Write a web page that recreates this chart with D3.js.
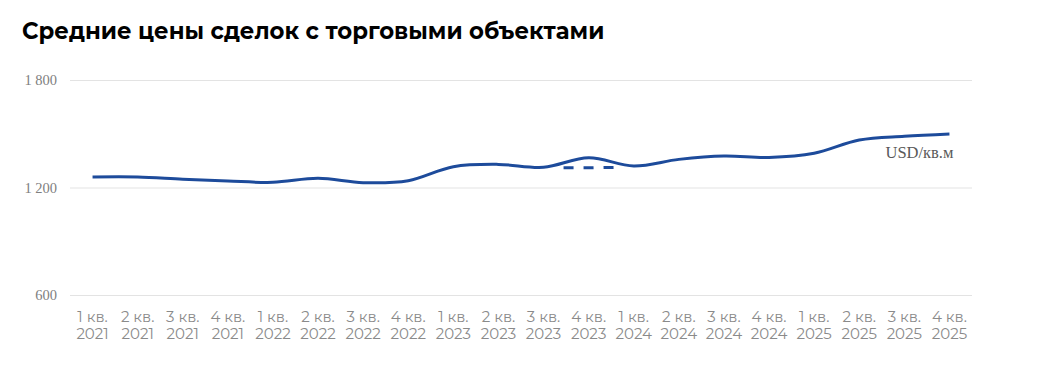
<!DOCTYPE html>
<html>
<head>
<meta charset="utf-8">
<script src="https://cdn.jsdelivr.net/npm/d3@7"></script>
<style>
  html, body { margin: 0; padding: 0; background: #fff; }
  svg { display: block; }
</style>
</head>
<body>
<div id="chart"></div>
<script>
// Quarterly average deal prices, USD per sq.m
const quarters = ["1 кв.", "2 кв.", "3 кв.", "4 кв."];
const years = ["2021", "2022", "2023", "2024", "2025"];
const categories = years.flatMap(y => quarters.map(q => q + "|" + y));
const prices = [1259, 1259, 1246, 1236, 1229, 1251, 1227, 1238, 1316, 1329,
                1313, 1366, 1320, 1357, 1376, 1368, 1391, 1465, 1486, 1499];
// dashed bridge across 4 кв. 2023
const bridge = [null, null, null, null, null, null, null, null, null, null,
                1310, 1310, 1314, null, null, null, null, null, null, null];
const yTicks = [600, 1200, 1800];

const W = 1040, H = 377;
const margin = { top: 80, right: 68, bottom: 82, left: 70 };
const w = W - margin.left - margin.right;
const h = H - margin.top - margin.bottom;

const svg = d3.select("#chart").append("svg")
  .attr("width", W).attr("height", H);

svg.append("text")
  .attr("x", 22).attr("y", 39)
  .attr("font-family", "Montserrat, 'Noto Sans', sans-serif")
  .attr("font-weight", 700)
  .attr("font-size", 22.8)
  .attr("fill", "#000")
  .text("Средние цены сделок с торговыми объектами");

const g = svg.append("g").attr("transform", `translate(${margin.left},${margin.top})`);

const x = d3.scaleBand().domain(categories).range([0, w]);
const y = d3.scaleLinear().domain([600, 1800]).range([h, 0]);
const cx = d => x(d) + x.bandwidth() / 2;

// grid + y labels
g.append("g")
  .call(d3.axisLeft(y).tickValues(yTicks).tickSize(-w).tickPadding(13)
    .tickFormat(d => d3.format(",")(d).replace(",", " ")))
  .call(a => a.select(".domain").remove())
  .call(a => a.selectAll("line").attr("stroke", "#e3e3e3").attr("stroke-width", 1))
  .call(a => a.selectAll("text")
    .attr("font-family", "'Liberation Serif', 'Times New Roman', serif")
    .attr("font-size", 14.5).attr("fill", "#808080"));

// x labels, two lines
const xa = g.append("g").attr("transform", `translate(0,${h})`)
  .call(d3.axisBottom(x).tickSize(0).tickFormat(""))
  .call(a => a.select(".domain").remove());
xa.selectAll(".tick").append("text")
  .attr("font-family", "Montserrat, 'Noto Sans', sans-serif")
  .attr("font-size", 15).attr("fill", "#8a8a8a")
  .attr("text-anchor", "middle")
  .selectAll("tspan")
  .data(d => d.split("|"))
  .join("tspan")
  .attr("x", 0)
  .attr("y", (_, i) => 27 + i * 17)
  .text(d => d);

const line = d3.line()
  .defined(d => d[1] != null)
  .x(d => cx(d[0]))
  .y(d => y(d[1]));

g.append("path")
  .datum(categories.map((c, i) => [c, bridge[i]]))
  .attr("fill", "none")
  .attr("stroke", "#1d4b9b")
  .attr("stroke-width", 3)
  .attr("stroke-dasharray", "0,20,10,10,10,10,10,100")
  .attr("d", line.curve(d3.curveLinear));

g.append("path")
  .datum(categories.map((c, i) => [c, prices[i]]))
  .attr("fill", "none")
  .attr("stroke", "#1d4b9b")
  .attr("stroke-width", 3)
  .attr("d", line.curve(d3.curveCatmullRom.alpha(0.5)));

g.append("text")
  .attr("x", cx(categories[categories.length - 1]) + 4)
  .attr("y", y(prices[prices.length - 1]) + 24)
  .attr("text-anchor", "end")
  .attr("font-family", "'Liberation Serif', 'Times New Roman', serif")
  .attr("font-size", 16.5)
  .attr("fill", "#595959")
  .text("USD/кв.м");
</script>
</body>
</html>
